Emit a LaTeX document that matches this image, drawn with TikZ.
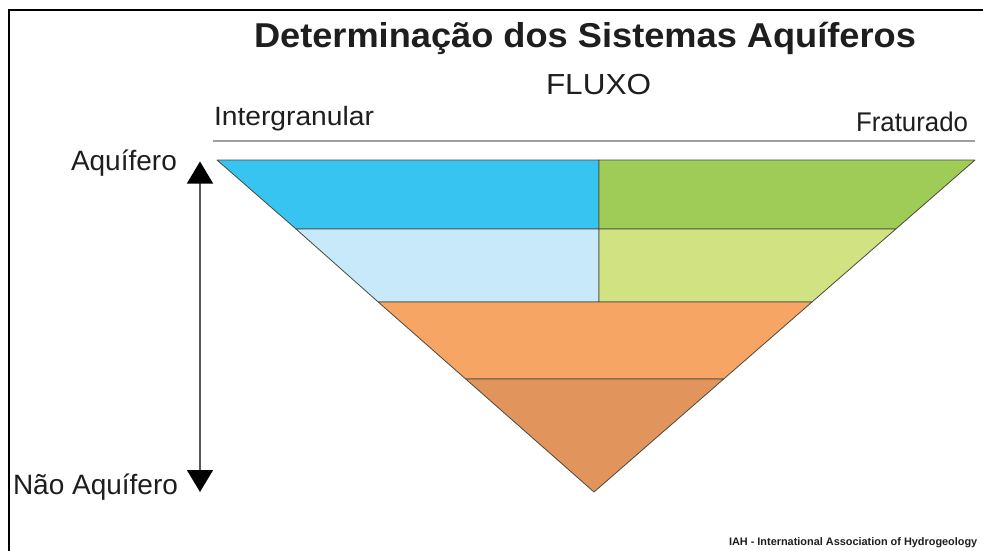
\documentclass[tikz,border=0pt]{standalone}
\usepackage{fontspec}
\setmainfont{Liberation Sans}
\usepackage{graphicx}
\usetikzlibrary{arrows.meta}
\definecolor{txt}{HTML}{1E1E1E}
\definecolor{blueA}{HTML}{38C4F1}
\definecolor{blueB}{HTML}{C7E9F9}
\definecolor{greenA}{HTML}{9FCC56}
\definecolor{greenB}{HTML}{D1E283}
\definecolor{orangeA}{HTML}{F6A564}
\definecolor{orangeB}{HTML}{E1955C}
\definecolor{edge}{HTML}{4A4A40}
\tikzset{
  lbl/.style={inner sep=0pt, outer sep=0pt, text=txt, anchor=base west},
  layer/.style={draw=edge, line width=0.8pt, line join=round},
}
\begin{document}
\begin{tikzpicture}[x=1pt,y=-1pt]
\useasboundingbox (0,0) rectangle (983,550);
\clip (0,0) rectangle (983,550);
\fill[white] (0,0) rectangle (983,550);
% frame
\draw[line width=2pt, black] (9,570) -- (9,10) -- (1000,10);
% layers
\filldraw[layer, fill=blueA] (217,160) -- (599,160) -- (599,229) -- (296,229) -- cycle;
\filldraw[layer, fill=greenA] (599,160) -- (975,160) -- (895.8,229) -- (599,229) -- cycle;
\filldraw[layer, fill=blueB] (296,229) -- (599,229) -- (599,302) -- (378.2,302) -- cycle;
\filldraw[layer, fill=greenB] (599,229) -- (895.8,229) -- (812,302) -- (599,302) -- cycle;
\filldraw[layer, fill=orangeA] (378.2,302) -- (812,302) -- (723.7,379) -- (465.7,379) -- cycle;
\filldraw[layer, fill=orangeB] (465.7,379) -- (723.7,379) -- (594,492) -- cycle;
% texts
\node[lbl] (title) at (254,47) {\resizebox{662pt}{\height}{\fontsize{34.5}{38}\selectfont\bfseries Determinação dos Sistemas Aquíferos}};
\node[lbl] (fluxo) at (546,94.3) {\resizebox{105pt}{\height}{\fontsize{29}{32}\selectfont FLUXO}};
\node[lbl] (inter) at (214,125) {\resizebox{160pt}{\height}{\fontsize{26.5}{30}\selectfont Intergranular}};
\node[lbl] (frat) at (856,131) {\resizebox{112pt}{\height}{\fontsize{27}{30}\selectfont Fraturado}};
\node[lbl] (aq) at (71,170) {\fontsize{28}{30}\selectfont Aquífero};
\node[lbl] (naq) at (13,494) {\fontsize{28}{30}\selectfont Não Aquífero};
\node[lbl] (iah) at (729,545) {\fontsize{10.9}{13}\selectfont\bfseries IAH - International Association of Hydrogeology};
% rule under flux labels
\coordinate (rl) at (213,141);
\coordinate (rr) at (975,141);
\draw[gray!75, line width=1.6pt] (rl) -- (rr);
% vertical arrow
\coordinate (atop) at (200,161.5);
\coordinate (abot) at (200,492);
\draw[line width=1.3pt, black!65, {Triangle[width=26pt,length=22pt,color=black]}-{Triangle[width=26pt,length=22pt,color=black]}] (atop) -- (abot);
\end{tikzpicture}
\end{document}
